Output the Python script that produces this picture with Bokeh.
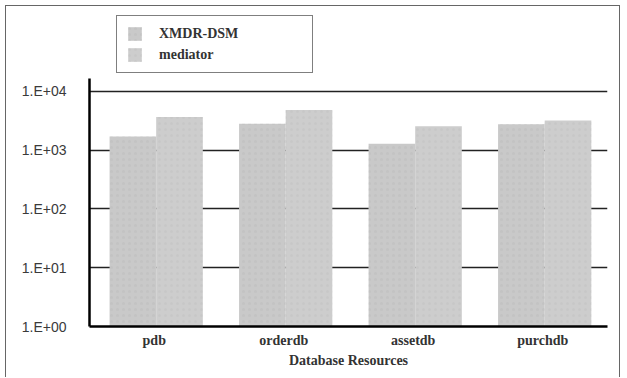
from bokeh.plotting import figure
from bokeh.models import ColumnDataSource, FactorRange, Range1d, FixedTicker, Legend, LegendItem
from bokeh.transform import dodge
from bokeh.embed import file_html
from bokeh.resources import INLINE

categories = ["pdb", "orderdb", "assetdb", "purchdb"]
xmdr_dsm = [1700, 2800, 1280, 2750]
mediator = [3650, 4800, 2550, 3200]
y_ticks = [1, 10, 100, 1000, 10000]
y_tick_labels = ["1.E+00", "1.E+01", "1.E+02", "1.E+03", "1.E+04"]
series_names = ["XMDR-DSM", "mediator"]

src = ColumnDataSource(dict(cat=categories, xmdr=xmdr_dsm, med=mediator,
                            base=[1] * len(categories)))

p = figure(width=615, height=372, output_backend="svg", toolbar_location=None,
           x_range=FactorRange(*categories, range_padding=0),
           y_range=Range1d(1, 194500), y_axis_type="log",
           min_border_left=83, min_border_right=14, min_border_top=9, min_border_bottom=52)
p.styles = {"margin": "5px 0 0 5px", "border-left": "1px solid #666",
            "border-top": "1px solid #666", "border-right": "1px solid #666"}

r1 = p.vbar(x=dodge("cat", -0.165, range=p.x_range), top="xmdr", bottom="base", width=0.36,
            source=src, fill_color="#c9c9c9", line_color=None,
            hatch_pattern="dot", hatch_color="#b8b8b8", hatch_alpha=0.35, hatch_scale=6)
r2 = p.vbar(x=dodge("cat", 0.195, range=p.x_range), top="med", bottom="base", width=0.36,
            source=src, fill_color="#cdcdcd", line_color=None,
            hatch_pattern="dot", hatch_color="#bcbcbc", hatch_alpha=0.35, hatch_scale=6)

p.outline_line_color = None
p.background_fill_color = "white"
p.border_fill_color = "white"

p.xgrid.grid_line_color = None
p.ygrid.grid_line_color = "#222222"
p.ygrid.grid_line_width = 1.5
p.ygrid.ticker = FixedTicker(ticks=y_ticks)

p.yaxis.ticker = FixedTicker(ticks=y_ticks)
p.yaxis.bounds = (1, 16400)
p.yaxis.major_label_overrides = {t: l for t, l in zip(y_ticks, y_tick_labels)}
p.yaxis.major_tick_line_color = None
p.yaxis.minor_tick_line_color = None
p.yaxis.axis_line_width = 2.5
p.yaxis.axis_line_color = "black"
p.yaxis.major_label_text_font = "Liberation Sans"
p.yaxis.major_label_text_font_size = "14px"
p.yaxis.major_label_text_color = "#3a3a3a"
p.yaxis.major_label_standoff = 17

p.xaxis.major_tick_line_color = None
p.xaxis.minor_tick_line_color = None
p.xaxis.axis_line_width = 2.5
p.xaxis.axis_line_color = "black"
p.xaxis.major_label_text_font = "Liberation Serif"
p.xaxis.major_label_text_font_size = "14px"
p.xaxis.major_label_text_font_style = "bold"
p.xaxis.major_label_text_color = "#333333"
p.xaxis.major_label_standoff = 0
p.xaxis.axis_label = "Database Resources"
p.xaxis.axis_label_text_font = "Liberation Serif"
p.xaxis.axis_label_text_font_size = "14px"
p.xaxis.axis_label_text_font_style = "bold"
p.xaxis.axis_label_text_color = "#333333"
p.xaxis.axis_label_standoff = 2

legend = Legend(items=[LegendItem(label=series_names[0], renderers=[r1]),
                       LegendItem(label=series_names[1], renderers=[r2])],
                location=(27, 253), orientation="vertical",
                border_line_color="black", border_line_width=1,
                padding=9, margin=0, spacing=4,
                glyph_width=17, glyph_height=17, label_height=17,
                label_standoff=16, label_width=144,
                label_text_font="Liberation Serif", label_text_font_size="14px",
                label_text_font_style="bold", label_text_color="#333333",
                background_fill_color="white")
p.add_layout(legend, "center")

open("out.html", "w").write(file_html(p, INLINE))
